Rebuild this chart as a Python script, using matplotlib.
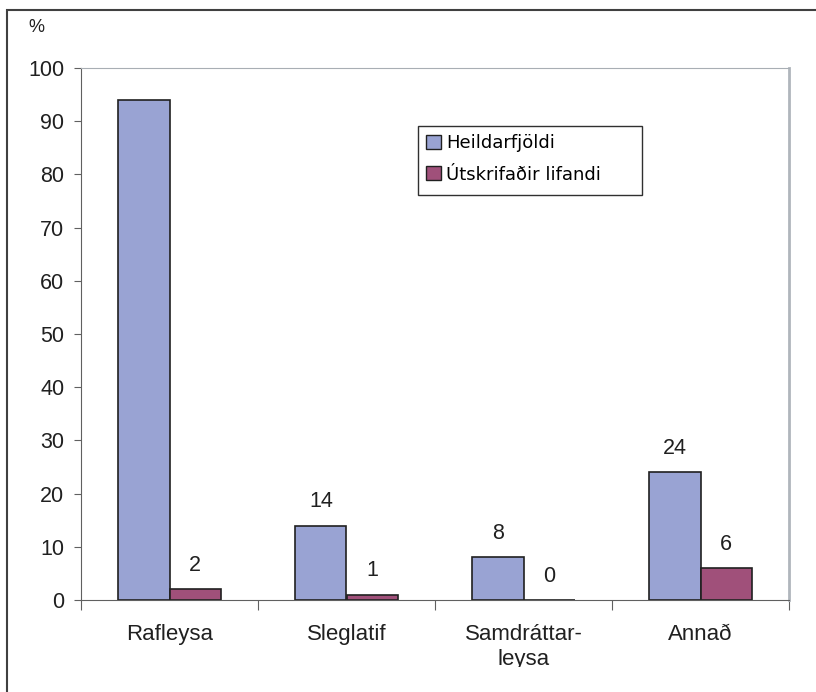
import matplotlib
matplotlib.use("Agg")
import matplotlib.pyplot as plt
from matplotlib.patches import Rectangle
from matplotlib.transforms import Bbox, TransformedBbox
import numpy as np

categories = ["Rafleysa", "Sleglatif", "Samdráttar-\nleysa", "Annað"]
heild = [94, 14, 8, 24]
utskr = [2, 1, 0, 6]
heild_labels = [None, "14", "8", "24"]
utskr_labels = ["2", "1", "0", "6"]
series_names = ["Heildarfjöldi", "Útskrifaðir lifandi"]

plt.rcParams['font.family'] = ['Liberation Sans', 'DejaVu Sans']

W, H = 816, 692
fig = plt.figure(figsize=(W/100, H/100), dpi=100)
fig.patches.append(Rectangle((7/W, -0.2), 1.2, 0.2 + (1 - 10/H), transform=fig.transFigure,
                             fill=False, edgecolor='#404040', linewidth=1.5))
ax = fig.add_axes([81/W, 1-600/H, (789-81)/W, (600-68)/H])

x = np.arange(len(categories))
w = 0.29
c1 = '#99A3D3'
c2 = '#A0507A'
fs = 15.5
ax.bar(x - w/2, heild, w, color=c1, edgecolor='#202020', linewidth=1.2, label=series_names[0])
ax.bar(x + w/2, utskr, w, color=c2, edgecolor='#202020', linewidth=1.2, label=series_names[1])

for xi, v, lab in zip(x, heild, heild_labels):
    if lab is not None:
        ax.text(xi - w/2, v + 2.5, lab, ha='center', va='bottom', fontsize=fs, color='#202020')
for xi, v, lab in zip(x, utskr, utskr_labels):
    ax.text(xi + w/2, v + 2.5, lab, ha='center', va='bottom', fontsize=fs, color='#202020')

ax.set_xlim(-0.5, len(categories) - 0.5)
ax.set_ylim(0, 100)
ax.set_yticks(range(0, 101, 10))
ax.tick_params(axis='y', labelsize=fs, direction='out', length=5, color='#606060', pad=7, labelcolor='#202020')
ax.set_xticks(np.arange(-0.5, len(categories), 1.0))
ax.set_xticklabels([])
ax.set_xticks(x, minor=True)
ax.set_xticklabels(categories, minor=True, fontsize=16, color='#202020', linespacing=1.25)
ax.tick_params(axis='x', which='major', direction='out', length=7, color='#606060')
ax.tick_params(axis='x', which='minor', length=0, pad=17)

clip = TransformedBbox(Bbox([[0, 25/H], [1, 1]]), fig.transFigure)
for lbl in ax.get_xticklabels(minor=True):
    lbl.set_clip_box(clip)
    lbl.set_clip_on(True)

ax.spines['left'].set_color('#606060')
ax.spines['bottom'].set_color('#606060')
ax.spines['top'].set_color('#A8AEB4')
ax.spines['right'].set_color('#B0B6BC')
ax.spines['right'].set_linewidth(2)

fig.text(28/W, 1-27/H, "%", fontsize=13, va='center', ha='left', color='#202020')

leg = fig.legend(loc='upper left', bbox_to_anchor=(418/W, 1-126/H), frameon=False,
                 handlelength=0.8, handleheight=0.8,
                 handletextpad=0.3, borderpad=0.45, labelspacing=0.75, borderaxespad=0,
                 prop={'family': 'DejaVu Sans', 'size': 13})
for h in leg.legend_handles:
    h.set_edgecolor('#202020')
    h.set_linewidth(1.0)
fig.patches.append(Rectangle((418/W, 1-195/H), (642-418)/W, (195-126)/H, transform=fig.transFigure,
                             fill=False, edgecolor='#303030', linewidth=1.0))

fig.savefig("out.png", dpi=100)
